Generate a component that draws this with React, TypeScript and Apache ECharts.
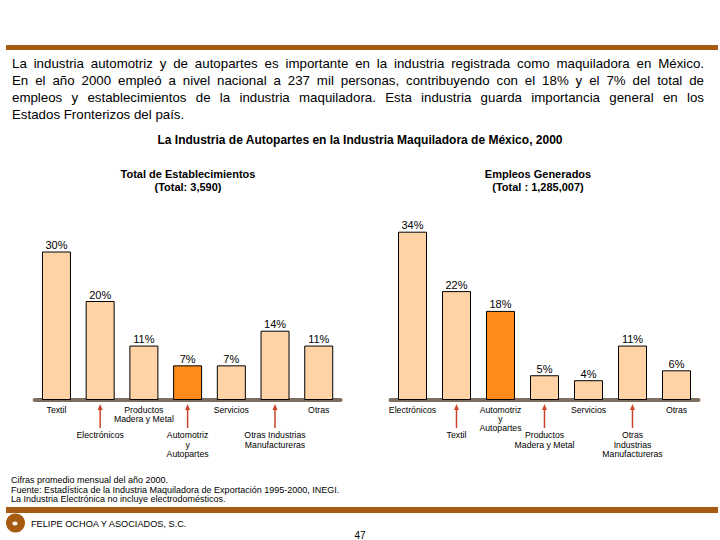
import React, { useEffect, useRef } from 'react';
import * as echarts from 'echarts';

const paragraphLines = [
  'La industria automotriz y de autopartes es importante en la industria registrada como maquiladora en México.',
  'En el año 2000 empleó a nivel nacional a 237 mil personas, contribuyendo con el 18% y el 7% del total de',
  'empleos y establecimientos de la industria maquiladora. Esta industria guarda importancia general en los',
  'Estados Fronterizos del país.',
];
const chartTitle = 'La Industria de Autopartes en la Industria Maquiladora de México, 2000';
const leftTitle = ['Total de Establecimientos', '(Total: 3,590)'];
const rightTitle = ['Empleos Generados', '(Total : 1,285,007)'];

const leftCategories = [
  'Textil',
  'Electrónicos',
  'Productos Madera y Metal',
  'Automotriz y Autopartes',
  'Servicios',
  'Otras Industrias Manufactureras',
  'Otras',
];
const leftValues = [30, 20, 11, 7, 7, 14, 11];
const leftLabelLines = [
  ['Textil'],
  ['Electrónicos'],
  ['Productos', 'Madera y Metal'],
  ['Automotriz', 'y', 'Autopartes'],
  ['Servicios'],
  ['Otras Industrias', 'Manufactureras'],
  ['Otras'],
];

const rightCategories = [
  'Electrónicos',
  'Textil',
  'Automotriz y Autopartes',
  'Productos Madera y Metal',
  'Servicios',
  'Otras Industrias Manufactureras',
  'Otras',
];
const rightValues = [34, 22, 18, 5, 4, 11, 6];
const rightLabelLines = [
  ['Electrónicos'],
  ['Textil'],
  ['Automotriz', 'y', 'Autopartes'],
  ['Productos', 'Madera y Metal'],
  ['Servicios'],
  ['Otras', 'Industrias', 'Manufactureras'],
  ['Otras'],
];

const highlightCategory = 'Automotriz y Autopartes';

const footnotes = [
  'Cifras promedio mensual del año 2000.',
  'Fuente: Estadística de la Industria Maquiladora de Exportación 1995-2000, INEGI.',
  'La Industria Electrónica no incluye electrodomésticos.',
];
const firmName = 'FELIPE OCHOA Y ASOCIADOS, S.C.';
const pageNumber = '47';

const FONT = '"Liberation Sans", Arial, sans-serif';
const PEACH = '#FFD3A6';
const ORANGE = '#FF8C1A';
const BROWN = '#A65A12';
const AXIS = '#7D6E60';
const ARROW = '#C8452A';

export default function App() {
  const ref = useRef<HTMLDivElement>(null);

  useEffect(() => {
    if (!ref.current) return;
    const chart = echarts.init(ref.current, undefined, { renderer: 'svg' });

    const canvas = document.createElement('canvas');
    const ctx = canvas.getContext('2d')!;
    const measure = (t: string, size: number, weight = 'normal') => {
      ctx.font = `${weight} ${size}px "Liberation Sans"`;
      return ctx.measureText(t).width;
    };

    const barSeries = (cats: string[], vals: number[], idx: number) => ({
      type: 'bar',
      xAxisIndex: idx,
      yAxisIndex: idx,
      barWidth: 29,
      data: vals.map((v, i) => ({
        value: v,
        itemStyle: { color: cats[i] === highlightCategory ? ORANGE : PEACH },
      })),
      itemStyle: { borderColor: '#000', borderWidth: 1 },
      label: {
        show: true,
        position: 'top',
        distance: 1,
        formatter: '{c}%',
        fontSize: 11,
        color: '#000',
        fontFamily: FONT,
      },
    });

    const xAxis = (cats: string[], idx: number) => ({
      type: 'category',
      gridIndex: idx,
      data: cats,
      offset: 2,
      axisLine: { show: true, lineStyle: { color: AXIS, width: 4 } },
      axisTick: { show: false },
      axisLabel: { show: false },
      splitLine: { show: false },
    });
    const yAxis = (idx: number) => ({
      type: 'value',
      gridIndex: idx,
      min: 0,
      max: 40,
      show: false,
    });

    chart.setOption({
      animation: false,
      backgroundColor: '#fff',
      grid: [
        { left: 34.6, top: 202, width: 306, height: 198 },
        { left: 390.5, top: 202, width: 308, height: 198 },
      ],
      xAxis: [xAxis(leftCategories, 0), xAxis(rightCategories, 1)],
      yAxis: [yAxis(0), yAxis(1)],
      series: [barSeries(leftCategories, leftValues, 0), barSeries(rightCategories, rightValues, 1)],
    });

    const g: any[] = [];
    const txt = (text: string, x: number, y: number, size: number, opts: any = {}) =>
      g.push({
        type: 'text',
        x,
        y,
        silent: true,
        style: {
          text,
          fontSize: size,
          fontFamily: FONT,
          fontWeight: opts.weight || 'normal',
          fill: opts.fill || '#000',
          textAlign: opts.align || 'left',
          textVerticalAlign: 'middle',
        },
      });

    // page decorations
    g.push({ type: 'rect', shape: { x: 6, y: 45, width: 712, height: 5 }, style: { fill: BROWN } });
    g.push({ type: 'rect', shape: { x: 6, y: 507, width: 712, height: 6 }, style: { fill: BROWN } });
    g.push({ type: 'circle', shape: { cx: 15.5, cy: 523, r: 9.5 }, style: { fill: BROWN } });
    g.push({ type: 'ellipse', shape: { cx: 15, cy: 523.5, rx: 2.6, ry: 2 }, style: { fill: '#fff' } });

    // paragraph, justified
    const pLeft = 12;
    const pWidth = 692;
    let pSize = 13.3;
    const natural = measure(paragraphLines[0], pSize);
    if (natural > pWidth) pSize = (pSize * pWidth) / natural;
    const lineYs = [63, 80, 97, 114];
    paragraphLines.forEach((line, li) => {
      const words = line.split(/\s+/);
      if (li === paragraphLines.length - 1) {
        txt(line, pLeft, lineYs[li], pSize);
        return;
      }
      const widths = words.map((w) => measure(w, pSize));
      const total = widths.reduce((a, b) => a + b, 0);
      const gap = (pWidth - total) / (words.length - 1);
      let x = pLeft;
      words.forEach((w, wi) => {
        txt(w, x, lineYs[li], pSize);
        x += widths[wi] + gap;
      });
    });

    // titles
    txt(chartTitle, 360, 140, 12, { weight: 'bold', align: 'center' });
    txt(leftTitle[0], 188, 174, 11, { weight: 'bold', align: 'center' });
    txt(leftTitle[1], 188, 187, 11, { weight: 'bold', align: 'center' });
    txt(rightTitle[0], 538, 174, 11, { weight: 'bold', align: 'center' });
    txt(rightTitle[1], 538, 187, 11, { weight: 'bold', align: 'center' });

    // category labels with arrows
    const addLabels = (cats: string[], lines: string[][], axisIdx: number) => {
      cats.forEach((c, i) => {
        const px = chart.convertToPixel({ xAxisIndex: axisIdx }, c) as number;
        if (i % 2 === 0) {
          lines[i].forEach((l, k) => txt(l, px, 410 + k * 9, 8.7, { align: 'center' }));
        } else {
          g.push({
            type: 'polygon',
            shape: { points: [[px, 404], [px - 2.5, 410], [px + 2.5, 410]] },
            style: { fill: ARROW },
          });
          g.push({
            type: 'line',
            shape: { x1: px, y1: 409, x2: px, y2: 428 },
            style: { stroke: ARROW, lineWidth: 1.5 },
          });
          lines[i].forEach((l, k) => txt(l, px, 435 + k * 9.5, 8.7, { align: 'center' }));
        }
      });
    };
    addLabels(leftCategories, leftLabelLines, 0);
    addLabels(rightCategories, rightLabelLines, 1);

    // footnotes
    const fSize = Math.min(9, (8.5 * 331) / measure(footnotes[1], 8.5));
    footnotes.forEach((f, i) => txt(f, 11, [480, 490, 499][i], fSize));
    txt(firmName, 31, 524, 9.2);
    txt(pageNumber, 360, 535, 10, { align: 'center' });

    chart.setOption({ graphic: g });

    return () => chart.dispose();
  }, []);

  return (
    <div
      ref={ref}
      style={{ position: 'fixed', left: 0, top: 0, width: 720, height: 540, background: '#fff' }}
    />
  );
}
